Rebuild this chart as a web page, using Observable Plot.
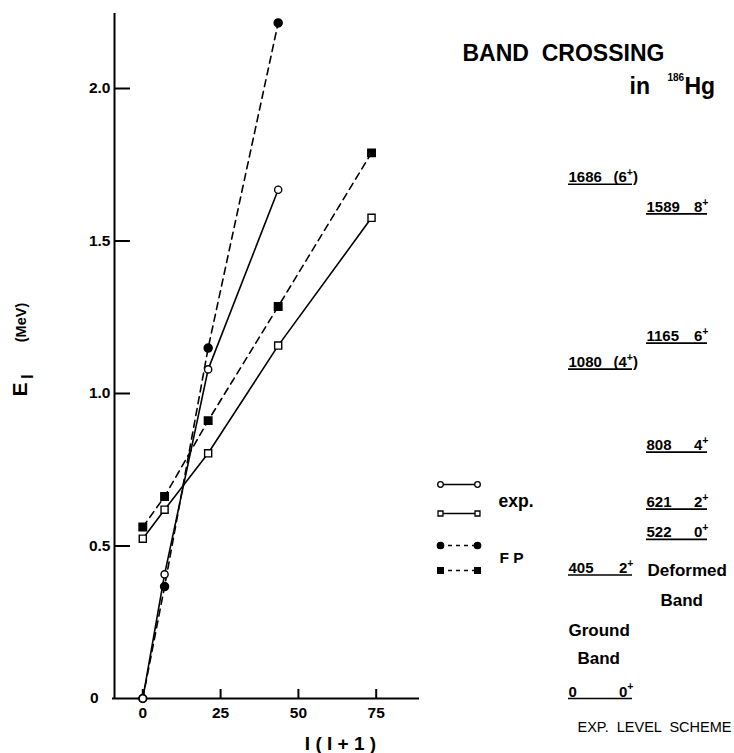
<!DOCTYPE html>
<html><head><meta charset="utf-8">
<script src="https://cdn.jsdelivr.net/npm/d3@7"></script>
<script src="https://cdn.jsdelivr.net/npm/@observablehq/plot@0.6"></script>
<style>body{margin:0;background:#fff} svg{display:block}</style>
</head><body><div id="chart"></div>
<script>
// ---- data ----
const iiValues = [0, 7, 21, 43.5, 73.5];           // I(I+1)
const expGround = [0, 0.407, 1.079, 1.668];        // MeV
const expDeformed = [0.524, 0.619, 0.804, 1.157, 1.576];
const fpGround = [0, 0.367, 1.149, 2.215];
const fpDeformed = [0.562, 0.662, 0.911, 1.285, 1.789];
const xTicks = [0, 25, 50, 75];
const yTicks = [0, 0.5, 1.0, 1.5, 2.0];
const yTickLabels = ["0", "0.5", "1.0", "1.5", "2.0"];
const groundLevelsKeV = [1686, 1080, 405, 0];
const groundSpins = ["(6⁺)", "(4⁺)", "2⁺", "0⁺"];
const deformedLevelsKeV = [1589, 1165, 808, 621, 522];
const deformedSpins = ["8⁺", "6⁺", "4⁺", "2⁺", "0⁺"];
const legendLabels = ["exp.", "FP"];

// ---- layout ----
const W = 734, H = 753;
const X0 = 142.3, X75 = 375.7, Y0 = 698, Y2 = 88;
const X = p => (p - X0) * 75 / (X75 - X0);
const Y = p => (Y0 - p) * 2 / (Y0 - Y2);
const font = "Liberation Sans, Arial, sans-serif";
const levelFont = 15;

const series = (xs, ys) => ys.map((y, i) => ({x: xs[i], y}));
const eg = series(iiValues, expGround);
const ed = series(iiValues, expDeformed);
const fg = series(iiValues, fpGround);
const fd = series(iiValues, fpDeformed);
const yTickTable = yTicks.map((v, i) => ({v, t: yTickLabels[i]}));
const groundTable = groundLevelsKeV.map((e, i) => ({e, s: groundSpins[i]}));
const deformedTable = deformedLevelsKeV.map((e, i) => ({e, s: deformedSpins[i]}));
const isParen = d => d.s.startsWith("(");

const lw = 1.6;
const bold = {fontWeight: "bold", fontFamily: font};
const label = (t, px, py, size, opts = {}) =>
  Plot.text([t], {x: X(px), y: Y(py), text: d => d, fontSize: size, ...bold, ...opts});
const levelText = {lineAnchor: "bottom", dy: -2, fontSize: levelFont, ...bold};

const marks = [
  // axes
  Plot.ruleY([0], {x1: X(112), x2: X(419), strokeWidth: 2}),
  Plot.ruleX([X(114)], {y1: 0, y2: Y(13), strokeWidth: 2}),
  Plot.ruleY(yTicks.slice(1), {x1: X(114), x2: X(130), strokeWidth: 2}),
  Plot.ruleX(xTicks, {y1: 0, y2: Y(689), strokeWidth: 2}),
  Plot.text(yTickTable.filter(d => d.v !== 0), {x: X(110), y: "v", text: "t", textAnchor: "end", fontSize: 15.5, ...bold}),
  Plot.text(yTickTable.filter(d => d.v === 0), {x: X(98), y: "v", text: "t", textAnchor: "end", fontSize: 15.5, ...bold}),
  Plot.text(xTicks, {x: d => d, y: Y(713), text: d => String(d), fontSize: 15.5, ...bold}),
  label("I ( I + 1 )", 340, 743, 19),
  label("E", 19.5, 389, 21, {rotate: -90}),
  label("I", 27.5, 376, 16, {rotate: -90}),
  label("(MeV)", 20.5, 322, 14.5, {rotate: -90}),

  // data lines
  Plot.line(fg, {x: "x", y: "y", stroke: "black", strokeWidth: lw, strokeDasharray: "7,5"}),
  Plot.line(fd, {x: "x", y: "y", stroke: "black", strokeWidth: lw, strokeDasharray: "7,5"}),
  Plot.line(eg, {x: "x", y: "y", stroke: "black", strokeWidth: lw}),
  Plot.line(ed, {x: "x", y: "y", stroke: "black", strokeWidth: lw}),
  Plot.dot(fg, {x: "x", y: "y", r: 4, fill: "black", stroke: "black", symbol: "circle"}),
  Plot.dot(fd, {x: "x", y: "y", r: 4.2, fill: "black", stroke: "black", symbol: "square"}),
  Plot.dot(eg, {x: "x", y: "y", r: 3.6, fill: "white", stroke: "black", strokeWidth: 1.4, symbol: "circle"}),
  Plot.dot(ed, {x: "x", y: "y", r: 4, fill: "white", stroke: "black", strokeWidth: 1.4, symbol: "square"}),

  // legend
  ...[
    {py: 484, sym: "circle", fill: "white", dash: null},
    {py: 513, sym: "square", fill: "white", dash: null},
    {py: 545, sym: "circle", fill: "black", dash: "4,4"},
    {py: 570, sym: "square", fill: "black", dash: "4,4"}
  ].flatMap(s => [
    Plot.ruleY([Y(s.py)], {x1: X(440), x2: X(477), strokeWidth: 1.4, strokeDasharray: s.dash}),
    Plot.dot([X(440), X(477)], {x: d => d, y: Y(s.py), r: s.fill === "white" ? 2.8 : 3.2, symbol: s.sym, fill: s.fill, stroke: "black", strokeWidth: 1.3})
  ]),
  label(legendLabels[0], 498, 501, 17.5, {textAnchor: "start"}),
  label(legendLabels[1].split("").join(" "), 499, 558, 15.5, {textAnchor: "start"}),

  // titles
  label("BAND  CROSSING", 462, 53, 23, {textAnchor: "start"}),
  label("in", 629, 86, 23, {textAnchor: "start"}),
  label("186", 667, 77, 10, {textAnchor: "start"}),
  label("Hg", 684, 86, 23, {textAnchor: "start"}),

  // level scheme (energies on the y scale)
  Plot.ruleY(groundLevelsKeV, {y: d => d / 1000, x1: X(568), x2: X(632), strokeWidth: 1.7}),
  Plot.ruleY(deformedLevelsKeV, {y: d => d / 1000, x1: X(646), x2: X(707), strokeWidth: 1.7}),
  Plot.text(groundLevelsKeV, {x: X(568), y: d => d / 1000, text: d => String(d), textAnchor: "start", ...levelText}),
  Plot.text(deformedLevelsKeV, {x: X(646), y: d => d / 1000, text: d => String(d), textAnchor: "start", ...levelText}),
  Plot.text(groundTable.filter(isParen), {x: X(613), y: d => d.e / 1000, text: "s", textAnchor: "start", ...levelText}),
  Plot.text(groundTable.filter(d => !isParen(d)), {x: X(633), y: d => d.e / 1000, text: "s", textAnchor: "end", ...levelText}),
  Plot.text(deformedTable, {x: X(708), y: d => d.e / 1000, text: "s", textAnchor: "end", ...levelText}),
  label("Deformed", 647, 570, 17, {textAnchor: "start"}),
  label("Band", 660, 600, 17, {textAnchor: "start"}),
  label("Ground", 568, 630, 17, {textAnchor: "start"}),
  label("Band", 577, 658, 17, {textAnchor: "start"}),
  Plot.text(["EXP.  LEVEL  SCHEME"], {x: X(577), y: Y(727), text: d => d, textAnchor: "start", fontSize: 14.5, fontWeight: 500, fontFamily: font})
];

const chart = Plot.plot({
  width: W, height: H,
  margin: 0,
  x: {type: "linear", domain: [0, 75], range: [X0, X75], axis: null},
  y: {type: "linear", domain: [0, 2], range: [Y0, Y2], axis: null},
  style: {background: "white", color: "black", overflow: "visible"},
  marks
});

// make sure the y-axis title is vertical, and raise the "+" of the spin labels
const rotated = new Set(["E", "I", "(MeV)"]);
d3.select(chart).selectAll("text").each(function () {
  const el = d3.select(this);
  const t = this.textContent;
  if (rotated.has(t)) {
    const tr = el.attr("transform") || "";
    if (!/rotate/.test(tr)) el.attr("transform", tr + " rotate(-90)");
  }
  if (t.includes("⁺")) {
    const parts = t.split("⁺");
    el.text(null);
    const raise = levelFont * 0.42;
    el.append("tspan").text(parts[0]);
    el.append("tspan").attr("dy", -raise).attr("font-size", levelFont * 0.7).text("+");
    if (parts[1]) el.append("tspan").attr("dy", raise).text(parts[1]);
  }
});
document.getElementById("chart").appendChild(chart);
</script>
</body></html>
